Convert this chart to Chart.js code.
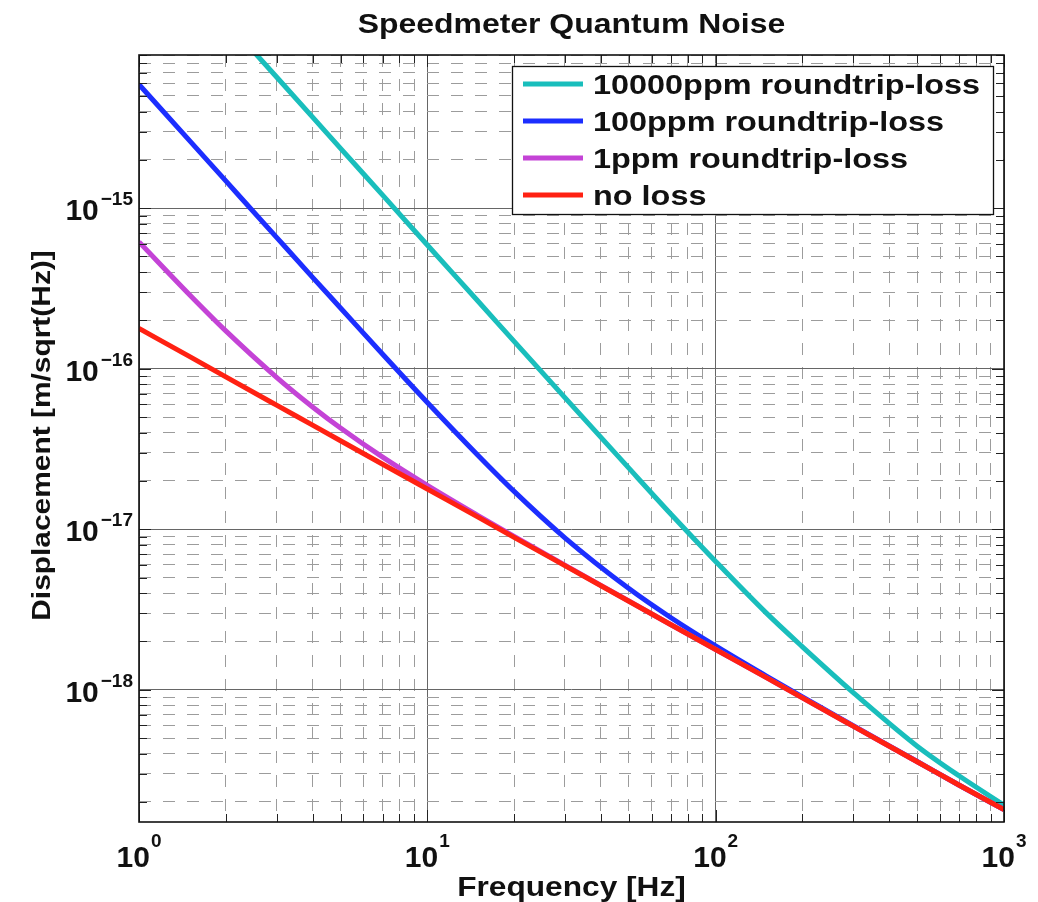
<!DOCTYPE html>
<html>
<head>
<meta charset="utf-8">
<script src="https://cdn.jsdelivr.net/npm/chart.js@4.4.0/dist/chart.umd.min.js"></script>
<style>
  html, body { margin: 0; padding: 0; background: #fff; }
  #wrap { width: 1038px; height: 902px; }
</style>
</head>
<body>
<div id="wrap"><canvas id="noiseChart" width="1038" height="902"></canvas></div>
<script>
// values (log-log)
const frequencies = [1, 1.5, 2, 3, 4, 5, 7, 10, 15, 20, 30, 50, 70, 100, 150, 200, 300, 500, 700, 1000];
const loss10000ppm = [5.9e-14, 2.62e-14, 1.475e-14, 6.56e-15, 3.69e-15, 2.36e-15, 1.205e-15, 5.9e-16, 2.63e-16, 1.48e-16, 6.6e-17, 2.4e-17, 1.24e-17, 6.3e-18, 3.0e-18, 1.85e-18, 9.6e-19, 4.45e-19, 2.9e-19, 1.91e-19];
const loss100ppm = [5.9e-15, 2.625e-15, 1.478e-15, 6.58e-16, 3.71e-16, 2.39e-16, 1.23e-16, 6.16e-17, 2.88e-17, 1.72e-17, 8.84e-18, 4.27e-18, 2.81e-18, 1.875e-18, 1.216e-18, 9.02e-19, 5.97e-19, 3.57e-19, 2.54e-19, 1.79e-19];
const loss1ppm = [6.16e-16, 2.88e-16, 1.72e-16, 8.84e-17, 5.78e-17, 4.27e-17, 2.81e-17, 1.875e-17, 1.216e-17, 9.02e-18, 5.97e-18, 3.57e-18, 2.54e-18, 1.78e-18, 1.19e-18, 8.9e-19, 5.93e-19, 3.56e-19, 2.54e-19, 1.79e-19];
const noLoss = [1.78e-16, 1.19e-16, 8.9e-17, 5.93e-17, 4.45e-17, 3.56e-17, 2.54e-17, 1.78e-17, 1.19e-17, 8.9e-18, 5.93e-18, 3.56e-18, 2.54e-18, 1.78e-18, 1.19e-18, 8.9e-19, 5.93e-19, 3.56e-19, 2.54e-19, 1.79e-19];

const seriesLabels = ["10000ppm roundtrip-loss", "100ppm roundtrip-loss", "1ppm roundtrip-loss", "no loss"];
const seriesColors = ["#19bebc", "#1c2eff", "#c443d6", "#ff2112"];
const seriesValues = [loss10000ppm, loss100ppm, loss1ppm, noLoss];

const xTickExponents = [0, 1, 2, 3];
const yTickExponents = [-18, -17, -16, -15];

const chartTitle = "Speedmeter Quantum Noise";
const xTitle = "Frequency [Hz]";
const yTitle = "Displacement [m/sqrt(Hz)]";

const FONT = '"Liberation Sans", Arial, Helvetica, sans-serif';

// 1..9 x 10^n ticks, so grid lines come out like matlab's minor grid
function buildLogTicks(scale) {
  const ticks = [];
  const lo = Math.floor(Math.log10(scale.min));
  const hi = Math.ceil(Math.log10(scale.max));
  for (let e = lo; e <= hi; e++) {
    for (let m = 1; m <= 9; m++) {
      const v = m * Math.pow(10, e);
      if (v >= scale.min * 0.999 && v <= scale.max * 1.001) {
        ticks.push({ value: v, major: m === 1 });
      }
    }
  }
  scale.ticks = ticks;
}

function isMajor(ctx) {
  return ctx.tick && ctx.tick.major;
}

function drawText(ctx, text, x, y, size, sx, align, rot) {
  ctx.save();
  ctx.translate(x, y);
  if (rot) ctx.rotate(rot);
  ctx.scale(sx, 1);
  ctx.font = "bold " + size + "px " + FONT;
  ctx.textAlign = align;
  ctx.textBaseline = "alphabetic";
  ctx.fillStyle = "#111";
  ctx.fillText(text, 0, 0);
  ctx.restore();
}

function textWidth(ctx, text, size) {
  ctx.save();
  ctx.font = "bold " + size + "px " + FONT;
  const w = ctx.measureText(text).width;
  ctx.restore();
  return w;
}

const framePlugin = {
  id: "frame",
  afterDatasetsDraw(chart) {
    const { ctx, chartArea: a, scales } = chart;
    ctx.save();
    ctx.strokeStyle = "#222";
    ctx.lineWidth = 1;
    ctx.beginPath();
    scales.x.ticks.forEach(t => {
      const px = Math.round(scales.x.getPixelForValue(t.value)) + 0.5;
      const len = t.major ? 12 : 8;
      ctx.moveTo(px, a.bottom); ctx.lineTo(px, a.bottom - len);
      ctx.moveTo(px, a.top); ctx.lineTo(px, a.top + len);
    });
    scales.y.ticks.forEach(t => {
      const py = Math.round(scales.y.getPixelForValue(t.value)) + 0.5;
      const len = t.major ? 12 : 8;
      ctx.moveTo(a.left, py); ctx.lineTo(a.left + len, py);
      ctx.moveTo(a.right, py); ctx.lineTo(a.right - len, py);
    });
    ctx.stroke();
    ctx.lineWidth = 1.6;
    ctx.strokeStyle = "#111";
    ctx.strokeRect(a.left, a.top, a.right - a.left, a.bottom - a.top);
    ctx.restore();
  },
  afterDraw(chart) {
    const { ctx, chartArea: a, scales } = chart;
    const midX = (a.left + a.right) / 2;

    drawText(ctx, chartTitle, midX, 33, 28, 1.14, "center");
    drawText(ctx, xTitle, midX, 896, 28, 1.13, "center");
    drawText(ctx, yTitle, 50, (a.top + a.bottom) / 2 - 3, 26, 1.15, "center", -Math.PI / 2);

    // x tick labels: 10 with raised exponent
    xTickExponents.forEach(e => {
      const px = scales.x.getPixelForValue(Math.pow(10, e));
      const sup = String(e).replace("-", "\u2212");
      const w10 = textWidth(ctx, "10", 30);
      const wSup = textWidth(ctx, sup, 19);
      const x0 = px - (w10 + 1 + wSup) / 2;
      drawText(ctx, "10", x0, a.bottom + 45, 30, 1, "left");
      drawText(ctx, sup, x0 + w10 + 1, a.bottom + 25, 19, 1, "left");
    });

    // y tick labels
    yTickExponents.forEach(e => {
      const py = scales.y.getPixelForValue(Math.pow(10, e));
      const sup = String(e).replace("-", "\u2212");
      const wSup = textWidth(ctx, sup, 19);
      drawText(ctx, sup, a.left - 6, py - 3, 19, 1, "right");
      drawText(ctx, "10", a.left - 6 - wSup - 2, py + 12, 30, 1, "right");
    });

    // legend box, top right inside the axes
    const box = { left: 512, top: 66, right: 993, bottom: 214 };
    ctx.save();
    ctx.fillStyle = "#fff";
    ctx.fillRect(box.left, box.top, box.right - box.left, box.bottom - box.top);
    ctx.lineWidth = 1.3;
    ctx.strokeStyle = "#111";
    ctx.strokeRect(box.left + 0.5, box.top + 0.5, box.right - box.left, box.bottom - box.top);
    chart.data.datasets.forEach((ds, i) => {
      const y = 84 + i * 37;
      ctx.strokeStyle = ds.borderColor;
      ctx.lineWidth = 5;
      ctx.beginPath();
      ctx.moveTo(523, y);
      ctx.lineTo(583, y);
      ctx.stroke();
      drawText(ctx, ds.label, 593, y + 10, 27, 1.2, "left");
    });
    ctx.restore();
  }
};

const ctx = document.getElementById("noiseChart").getContext("2d");
new Chart(ctx, {
  type: "line",
  data: {
    datasets: seriesValues.map((vals, i) => ({
      label: seriesLabels[i],
      data: frequencies.map((f, j) => ({ x: f, y: vals[j] })),
      borderColor: seriesColors[i],
      backgroundColor: seriesColors[i],
      borderWidth: 5,
      pointRadius: 0,
      fill: false,
      clip: 0,
      cubicInterpolationMode: "monotone",
      order: seriesValues.length - i
    }))
  },
  options: {
    responsive: false,
    animation: false,
    layout: { padding: { left: 139, top: 55, right: 34, bottom: 80 } },
    plugins: {
      legend: { display: false },
      title: { display: false },
      tooltip: { enabled: false }
    },
    scales: {
      x: {
        type: "logarithmic",
        min: 1,
        max: 1000,
        afterBuildTicks: buildLogTicks,
        afterFit: s => { s.height = 0; },
        ticks: { display: false },
        grid: {
          drawTicks: false,
          lineWidth: 1,
          color: c => isMajor(c) ? "#666666" : "#9c9c9c"
        },
        border: { display: false, dash: c => isMajor(c) ? [] : [12, 12] }
      },
      y: {
        type: "logarithmic",
        min: 1.5e-19,
        max: 9e-15,
        afterBuildTicks: buildLogTicks,
        afterFit: s => { s.width = 0; },
        ticks: { display: false },
        grid: {
          drawTicks: false,
          lineWidth: 1,
          color: c => isMajor(c) ? "#666666" : "#9c9c9c"
        },
        border: { display: false, dash: c => isMajor(c) ? [] : [12, 12] }
      }
    }
  },
  plugins: [framePlugin]
});
</script>
</body>
</html>
